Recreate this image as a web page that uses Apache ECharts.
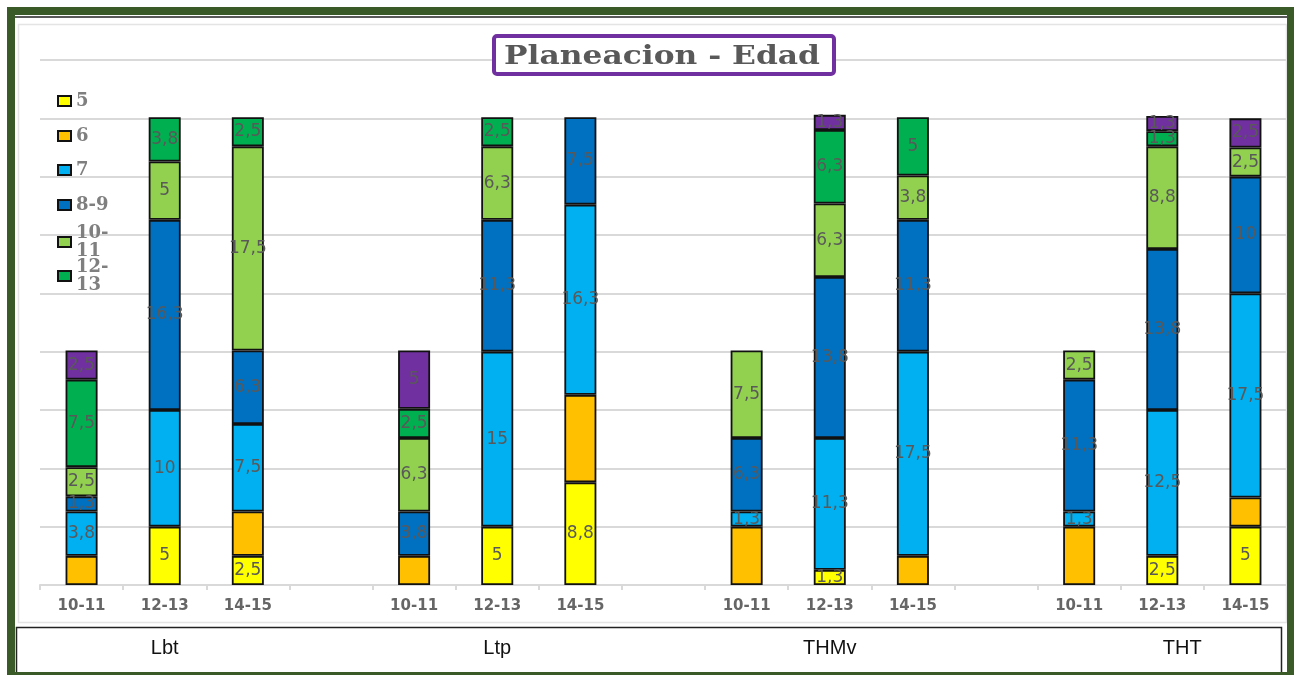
<!DOCTYPE html>
<html>
<head>
<meta charset="utf-8">
<script src="https://cdn.jsdelivr.net/npm/echarts@6/dist/echarts.min.js"></script>
<style>
  html, body { margin: 0; padding: 0; background: #ffffff; }
  #chart { width: 1294px; height: 675px; }
</style>
</head>
<body>
<div id="chart"></div>
<script>
// Groups along the x axis and the age bands inside each group
const groups = ['Lbt', 'Ltp', 'THMv', 'THT'];
const ageBands = ['10-11', '12-13', '14-15'];

// Stack segments, one value per bar (Lbt x3, Ltp x3, THMv x3, THT x3)
const serie5    = [0,   5,    2.5,  0,   5,    8.8,  0,   1.3,  0,    0,    2.5,  5];
const serie6    = [2.5, 0,    3.8,  2.5, 0,    7.5,  5,   0,    2.5,  5,    0,    2.5];
const serie7    = [3.8, 10,   7.5,  0,   15,   16.3, 1.3, 11.3, 17.5, 1.3,  12.5, 17.5];
const serie8_9  = [1.3, 16.3, 6.3,  3.8, 11.3, 7.5,  6.3, 13.8, 11.3, 11.3, 13.8, 10];
const serie10_11 = [2.5, 5,   17.5, 6.3, 6.3,  0,    7.5, 6.3,  3.8,  2.5,  8.8,  2.5];
const serie12_13 = [7.5, 3.8, 2.5,  2.5, 2.5,  0,    0,   6.3,  5,    0,    1.3,  0];
const serie14_15 = [2.5, 0,   0,    5,   0,    0,    0,   1.3,  0,    0,    1.3,  2.5];

const seriesNames = ['5', '6', '7', '8-9', '10-11', '12-13', '14-15'];
const seriesValues = [serie5, serie6, serie7, serie8_9, serie10_11, serie12_13, serie14_15];
const seriesColors = ['#FFFF00', '#FFC000', '#00B0F0', '#0070C0', '#92D050', '#00B050', '#7030A0'];
const legendNames = ['5', '6', '7', '8-9', '10-11', '12-13'];

// Category slots: three bars per group with an empty slot between groups
const bandAxis = [];
const groupAxis = [];
groups.forEach((g, gi) => {
  ageBands.forEach((b, bi) => {
    bandAxis.push(b);
    if (bi === 1) {
      // the last group name sits a little right of its middle bar
      const last = gi === groups.length - 1;
      groupAxis.push(last ? { value: g, textStyle: { padding: [0, 0, 0, 40] } } : g);
    } else {
      groupAxis.push('');
    }
  });
  if (gi < groups.length - 1) { bandAxis.push(''); groupAxis.push(''); }
});

function spread(values) {
  const out = [];
  groups.forEach((g, gi) => {
    for (let bi = 0; bi < ageBands.length; bi++) {
      const v = values[gi * ageBands.length + bi];
      out.push(v ? v : null);
    }
    if (gi < groups.length - 1) out.push(null);
  });
  return out;
}

const series = seriesNames.map((name, i) => ({
  name: name,
  type: 'bar',
  stack: 'total',
  barWidth: 32,
  data: spread(seriesValues[i]),
  itemStyle: { color: seriesColors[i], borderColor: '#111111', borderWidth: 1.8 },
  label: {
    show: name !== '6',
    position: 'inside',
    color: '#595959',
    fontFamily: 'DejaVu Sans',
    fontSize: 17,
    formatter: p => (p.value == null ? '' : String(p.value).replace('.', ','))
  },
  emphasis: { disabled: true }
}));

// One legend block per entry so wrapped names keep a steady rhythm
const legendCenters = [96, 131, 165, 200, 237, 271];
const legends = legendNames.map((name, i) => {
  const wrapped = name.length > 3;
  const lh = 18;
  return {
    data: [name],
    left: 52,
    top: legendCenters[i] - (wrapped ? lh * 1.5 : lh / 2),
    orient: 'vertical',
    icon: 'rect',
    itemWidth: 13,
    itemHeight: 10,
    itemGap: 4,
    selectedMode: false,
    formatter: n => (n.length > 3 ? n.replace('-', '-\n') : n),
    textStyle: {
      fontFamily: 'DejaVu Serif',
      fontWeight: 'bold',
      fontSize: 18,
      color: '#7f7f7f',
      lineHeight: lh,
      padding: wrapped ? [lh, 0, 0, 0] : 0
    }
  };
});

// Title box, with the text widened to fill the frame
const titleText = 'Planeacion - Edad';
const titleFont = 'bold 26px "DejaVu Serif"';
const meas = document.createElement('canvas').getContext('2d');
meas.font = titleFont;
const titleScale = 316 / meas.measureText(titleText).width;

const chart = echarts.init(document.getElementById('chart'));
chart.setOption({
  backgroundColor: '#ffffff',
  animation: false,
  legend: legends,
  grid: { left: 40, right: 7, top: 60, bottom: 90 },
  xAxis: [
    {
      type: 'category',
      data: bandAxis,
      axisLine: { lineStyle: { color: '#d9d9d9', width: 2 } },
      axisTick: { show: true, length: 5, lineStyle: { color: '#d9d9d9', width: 2 } },
      axisLabel: {
        interval: 0,
        margin: 14,
        color: '#666666',
        fontFamily: 'DejaVu Sans',
        fontWeight: 'bold',
        fontSize: 15
      }
    },
    {
      type: 'category',
      position: 'bottom',
      data: groupAxis,
      axisLine: { show: false },
      axisTick: { show: false },
      splitLine: { show: false },
      axisLabel: {
        interval: 0,
        margin: 53,
        color: '#111111',
        fontFamily: 'Liberation Sans',
        fontSize: 20
      }
    }
  ],
  yAxis: {
    type: 'value',
    min: 0,
    max: 45,
    interval: 5,
    axisLabel: { show: false },
    axisLine: { show: false },
    axisTick: { show: false },
    splitLine: { lineStyle: { color: '#d9d9d9', width: 2 } }
  },
  series: series,
  graphic: [
    // dark green frame
    { type: 'rect', silent: true, z: 100, shape: { x: 7, y: 7, width: 1287, height: 8 }, style: { fill: '#3A5A27' } },
    { type: 'rect', silent: true, z: 100, shape: { x: 7, y: 7, width: 8, height: 668 }, style: { fill: '#3A5A27' } },
    { type: 'rect', silent: true, z: 100, shape: { x: 1287, y: 7, width: 7, height: 668 }, style: { fill: '#3A5A27' } },
    { type: 'rect', silent: true, z: 100, shape: { x: 7, y: 672, width: 1287, height: 3 }, style: { fill: '#3A5A27' } },
    { type: 'line', silent: true, z: 100, shape: { x1: 15, y1: 17, x2: 1287, y2: 17 }, style: { stroke: '#222222', lineWidth: 1.5 } },
    // faint plot-area outline
    { type: 'rect', silent: true, z: 1, shape: { x: 18.5, y: 24.5, width: 1268, height: 598 }, style: { fill: 'none', stroke: '#e4e4e4', lineWidth: 1.5 } },
    // box under the chart holding the group names
    { type: 'rect', silent: true, z: 99, shape: { x: 16.5, y: 627.5, width: 1265, height: 46 }, style: { fill: 'none', stroke: '#222222', lineWidth: 1.5 } },
    // title
    { type: 'rect', silent: true, z: 101, shape: { x: 494, y: 36, width: 340, height: 38, r: 3 }, style: { fill: '#ffffff', stroke: '#7030A0', lineWidth: 4 } },
    {
      type: 'text', silent: true, z: 102,
      x: 662, y: 57, scaleX: titleScale, scaleY: 1,
      style: { text: titleText, font: titleFont, fill: '#595959', align: 'center', verticalAlign: 'middle' }
    }
  ]
});
</script>
</body>
</html>
